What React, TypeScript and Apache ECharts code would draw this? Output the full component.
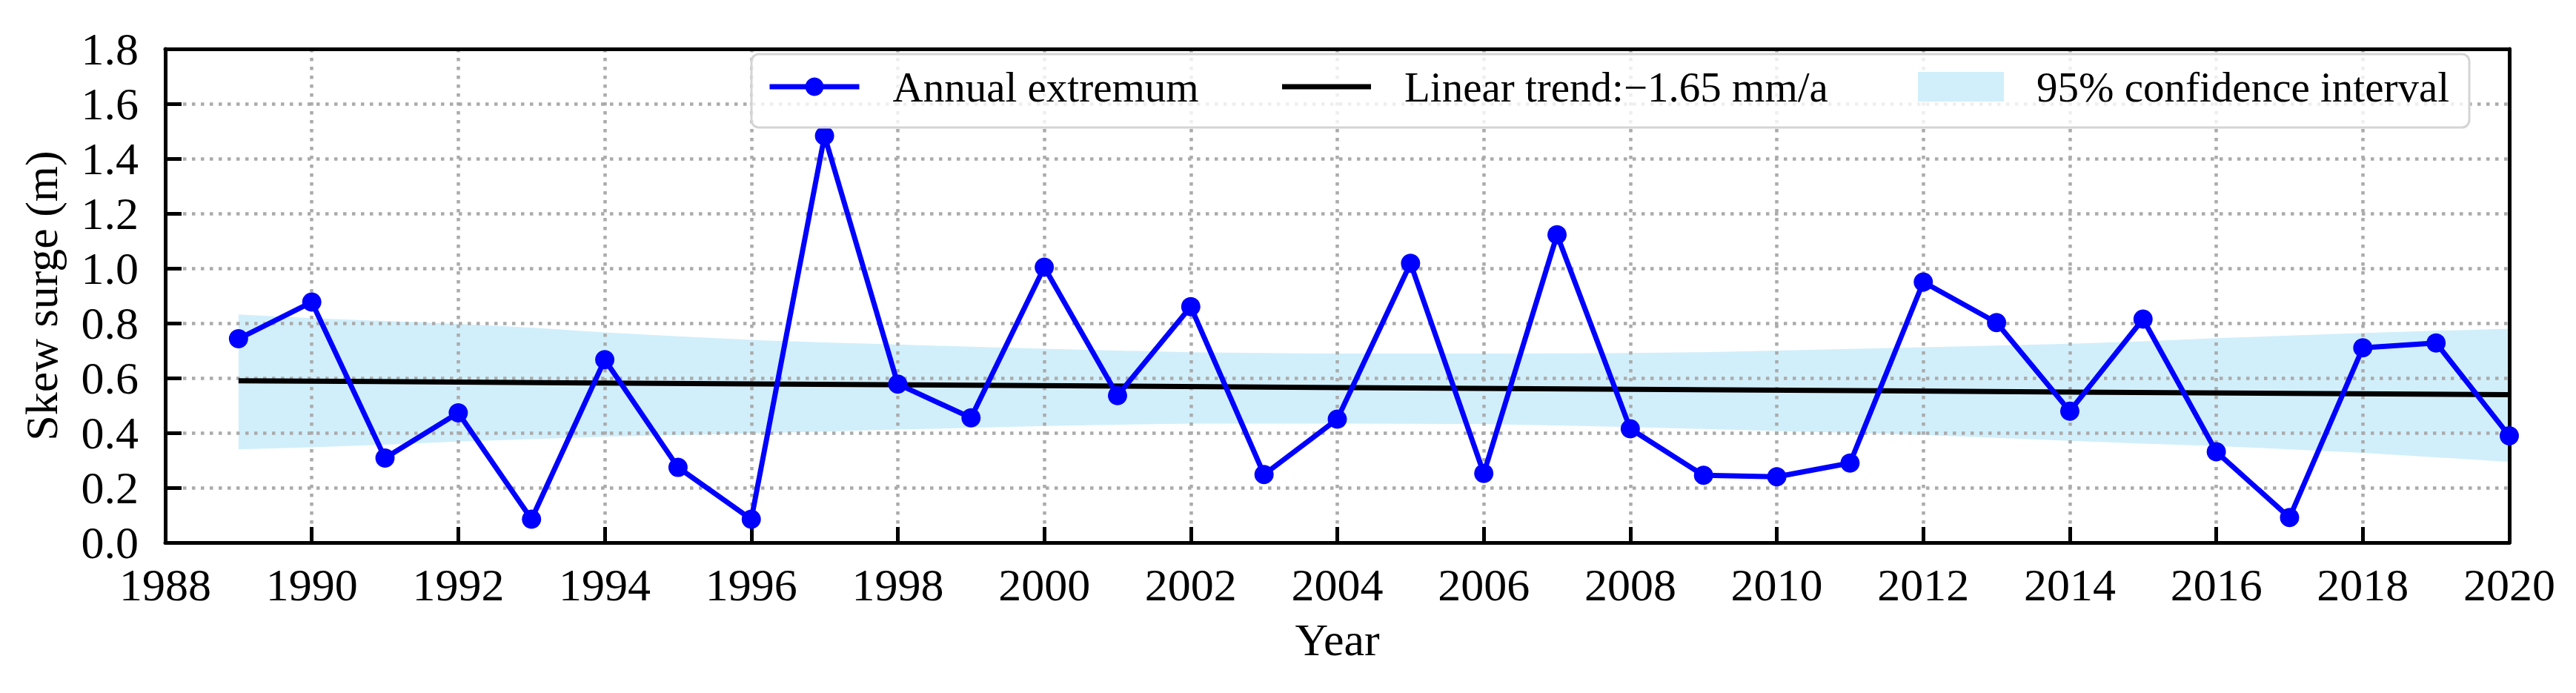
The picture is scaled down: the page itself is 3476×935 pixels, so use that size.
import React, { useEffect, useRef } from "react";
import * as echarts from "echarts";

const years = [
  1989, 1990, 1991, 1992, 1993, 1994, 1995, 1996, 1997, 1998, 1999, 2000, 2001, 2002, 2003, 2004,
  2005, 2006, 2007, 2008, 2009, 2010, 2011, 2012, 2013, 2014, 2015, 2016, 2017, 2018, 2019, 2020,
];
const annualExtremum = [
  0.743, 0.877, 0.308, 0.473, 0.085, 0.667, 0.274, 0.085, 1.483, 0.578, 0.455, 1.004, 0.536, 0.86,
  0.248, 0.45, 1.018, 0.252, 1.122, 0.415, 0.245, 0.24, 0.29, 0.95, 0.802, 0.479, 0.815, 0.331,
  0.091, 0.71, 0.728, 0.389,
];
const ciUpper = [
  0.832, 0.818, 0.808, 0.797, 0.784, 0.766, 0.752, 0.739, 0.73, 0.722, 0.714, 0.707, 0.7, 0.694,
  0.691, 0.689, 0.689, 0.689, 0.69, 0.691, 0.694, 0.7, 0.706, 0.712, 0.718, 0.725, 0.734, 0.745,
  0.755, 0.764, 0.772, 0.78,
];
const ciLower = [
  0.34, 0.347, 0.357, 0.368, 0.377, 0.386, 0.392, 0.398, 0.405, 0.412, 0.418, 0.425, 0.43, 0.434,
  0.434, 0.434, 0.433, 0.432, 0.427, 0.421, 0.414, 0.407, 0.4, 0.392, 0.382, 0.371, 0.361, 0.352,
  0.34, 0.327, 0.311, 0.294,
];
const trendYears = [1989, 2020];
const trendValues = [0.59, 0.539];

const NAME_EXT = "Annual extremum";
const NAME_TREND = "Linear trend:\u22121.65 mm/a";
const NAME_CI = "95% confidence interval";
const FONT = "Liberation Serif";
const BAND = "#d1effb";

export default function App() {
  const ref = useRef<HTMLDivElement>(null);
  useEffect(() => {
    if (!ref.current) return;
    const chart = echarts.init(ref.current, null, { renderer: "svg" });
    const legendText = {
      fontFamily: FONT,
      fontSize: 57,
      color: "#000",
      lineHeight: 70,
      padding: [0, 0, 0, 40],
    };
    const gridLine = {
      show: true,
      showMinLine: false,
      showMaxLine: false,
      lineStyle: { color: "#ababab", width: 4.5, type: [4.5, 7.5] },
    };
    const option: any = {
      animation: false,
      backgroundColor: "#fff",
      grid: { left: 223, right: 90, top: 66, bottom: 203, containLabel: false, show: false },
      xAxis: [
        {
          type: "value",
          min: 1988,
          max: 2020,
          interval: 2,
          z: 2,
          name: "Year",
          nameLocation: "middle",
          nameGap: 100,
          nameTextStyle: { fontFamily: FONT, fontSize: 62, color: "#000" },
          axisLine: { show: true, onZero: false, lineStyle: { color: "#000", width: 5 } },
          axisTick: { show: true, inside: true, length: 21, lineStyle: { color: "#000", width: 5 } },
          axisLabel: {
            fontFamily: FONT,
            fontSize: 62,
            color: "#000",
            margin: 26,
            formatter: (v: number) => String(v),
          },
          splitLine: gridLine,
        },
        {
          type: "value",
          position: "top",
          min: 1988,
          max: 2020,
          interval: 2,
          z: 3,
          axisLine: { show: true, onZero: false, lineStyle: { color: "#000", width: 5 } },
          axisTick: { show: false },
          axisLabel: { show: false },
          splitLine: { show: false },
        },
      ],
      yAxis: [
        {
          type: "value",
          min: 0,
          max: 1.8,
          interval: 0.2,
          z: 2,
          name: "Skew surge (m)",
          nameLocation: "middle",
          nameGap: 136,
          nameTextStyle: { fontFamily: FONT, fontSize: 62, color: "#000" },
          axisLine: { show: true, onZero: false, lineStyle: { color: "#000", width: 5 } },
          axisTick: { show: true, inside: true, length: 22, lineStyle: { color: "#000", width: 5 } },
          axisLabel: {
            fontFamily: FONT,
            fontSize: 62,
            color: "#000",
            margin: 36,
            formatter: (v: number) => v.toFixed(1),
          },
          splitLine: gridLine,
        },
        {
          type: "value",
          position: "right",
          min: 0,
          max: 1.8,
          interval: 0.2,
          z: 3,
          axisLine: { show: true, onZero: false, lineStyle: { color: "#000", width: 5 } },
          axisTick: { show: false },
          axisLabel: { show: false },
          splitLine: { show: false },
        },
      ],
      graphic: [
        {
          type: "rect",
          z: 6,
          shape: { x: 1014, y: 73, width: 2318, height: 99, r: 10 },
          style: { fill: "rgba(255,255,255,0.8)", stroke: "#d4d4d4", lineWidth: 3 },
        },
      ],
      legend: [
        {
          z: 7,
          data: [NAME_EXT],
          left: 1035,
          top: 82,
          padding: 0,
          itemWidth: 121,
          itemHeight: 31,
          selectedMode: false,
          lineStyle: { width: 7, color: "#0000ff" },
          itemStyle: { color: "#0000ff", borderWidth: 0 },
          textStyle: legendText,
        },
        {
          z: 7,
          data: [{ name: NAME_TREND, icon: "rect" }],
          left: 1730,
          top: 82,
          padding: 0,
          itemWidth: 120,
          itemHeight: 7,
          selectedMode: false,
          itemStyle: { color: "#000", borderWidth: 0 },
          textStyle: legendText,
        },
        {
          z: 7,
          data: [{ name: NAME_CI, icon: "rect" }],
          left: 2588,
          top: 82,
          padding: 0,
          itemWidth: 116,
          itemHeight: 40,
          selectedMode: false,
          itemStyle: { color: BAND, borderWidth: 0 },
          textStyle: { ...legendText, padding: [0, 0, 0, 39] },
        },
      ],
      series: [
        {
          name: NAME_CI,
          type: "custom",
          z: 1,
          silent: true,
          itemStyle: { color: BAND },
          data: [[years[0], ciLower[0]]],
          renderItem: (params: any, api: any) => {
            const upper = years.map((y, i) => api.coord([y, ciUpper[i]]));
            const lower = years.map((y, i) => api.coord([y, ciLower[i]])).reverse();
            return {
              type: "polygon",
              shape: { points: upper.concat(lower) },
              style: { fill: BAND, stroke: "none" },
            };
          },
        },
        {
          name: NAME_TREND,
          type: "line",
          z: 4,
          color: "#000",
          data: trendYears.map((y, i) => [y, trendValues[i]]),
          showSymbol: false,
          symbol: "none",
          lineStyle: { color: "#000", width: 7 },
          silent: true,
        },
        {
          name: NAME_EXT,
          type: "line",
          z: 5,
          color: "#0000ff",
          data: years.map((y, i) => [y, annualExtremum[i]]),
          symbol: "circle",
          symbolSize: 26,
          showSymbol: true,
          itemStyle: { color: "#0000ff", borderWidth: 0 },
          lineStyle: { color: "#0000ff", width: 7 },
          silent: true,
        },
      ],
    };
    chart.setOption(option);
    return () => chart.dispose();
  }, []);
  return (
    <div
      ref={ref}
      style={{ position: "fixed", left: 0, top: 0, width: 3476, height: 935, background: "#fff" }}
    />
  );
}
